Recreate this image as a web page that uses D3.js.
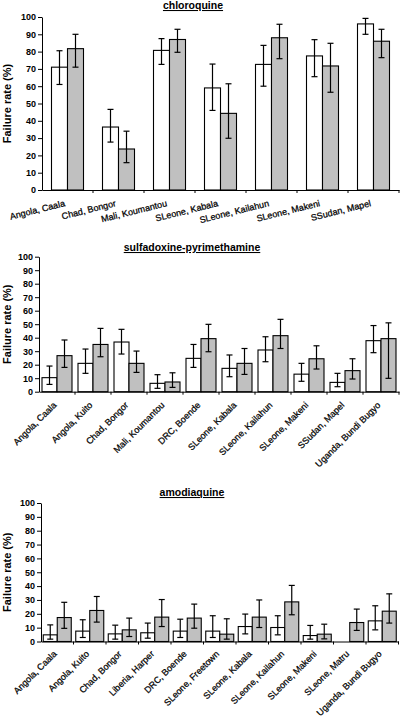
<!DOCTYPE html>
<html>
<head>
<meta charset="utf-8">
<script src="https://cdn.jsdelivr.net/npm/d3@7"></script>
<style>
  body { margin: 0; background: #fff; }
  svg { display: block; }
  text { font-family: "Liberation Sans", Arial, sans-serif; fill: #000; }
</style>
</head>
<body>
<svg id="chart" width="400" height="719"></svg>
<script>
// ---------- DATA ----------
const yTicks = [0, 10, 20, 30, 40, 50, 60, 70, 80, 90, 100];

const cqTitle = "chloroquine";
const cqCategories = ["Angola, Caala", "Chad, Bongor", "Mali, Koumantou", "SLeone, Kabala", "SLeone, Kailahun", "SLeone, Makeni", "SSudan, Mapel"];
const cqWhite     = [71, 36.4, 80.7, 59, 72.6, 77.5, 96];
const cqWhiteLow  = [61, 27.7, 72.6, 46, 60, 65.5, 90];
const cqWhiteHigh = [80.5, 46.6, 87.5, 72.8, 83.6, 86.9, 99.2];
const cqGray      = [81.7, 23.7, 87, 44.3, 88, 71.7, 86];
const cqGrayLow   = [71, 15.8, 79.6, 29.9, 75.9, 56.5, 76.5];
const cqGrayHigh  = [90, 34, 92.9, 61.4, 95.8, 84.8, 92.9];

const spTitle = "sulfadoxine-pyrimethamine";
const spCategories = ["Angola, Caala", "Angola, Kuito", "Chad, Bongor", "Mali, Koumantou", "DRC, Boende", "SLeone, Kabala", "SLeone, Kailahun", "SLeone, Makeni", "SSudan, Mapel", "Uganda, Bundi Bugyo"];
const spWhite     = [10.4, 21, 36.8, 6.2, 24.7, 17.3, 30.9, 13, 6.9, 37.8];
const spWhiteLow  = [5.4, 13.6, 27.9, 2.5, 18, 11.1, 22.2, 7.7, 3.7, 28.9];
const spWhiteHigh = [19, 31.6, 46.2, 12.6, 35, 27.2, 40.7, 21, 13.6, 49];
const spGray      = [26.7, 35, 21, 7.2, 39.3, 21, 41.5, 24.4, 15.6, 39.3];
const spGrayLow   = [18, 25.9, 14.3, 3.2, 29.6, 12.8, 32, 16.8, 9.4, 9.9];
const spGrayHigh  = [38.3, 46.9, 30.1, 14, 49.9, 32, 53.6, 34, 24.4, 51];

const aqTitle = "amodiaquine";
const aqCategories = ["Angola, Caala", "Angola, Kuito", "Chad, Bongor", "Liberia, Harper", "DRC, Boende", "SLeone, Freetown", "SLeone, Kabala", "SLeone, Kailahun", "SLeone, Makeni", "SLeone, Matru", "Uganda, Bundi Bugyo"];
const aqWhite     = [4.8, 7.5, 5.5, 6.3, 7.5, 7.5, 10.8, 10.1, 4.3, 0, 14.9];
const aqWhiteLow  = [1.7, 2.9, 1.7, 2.4, 2.9, 2.9, 5.5, 4.8, 1.7, null, 8.4];
const aqWhiteHigh = [12, 15.7, 11.8, 13.3, 16.1, 18.6, 19.8, 18.6, 11.6, null, 25.8];
const aqGray      = [17.3, 22.4, 8.4, 17.6, 16.9, 5.3, 17.6, 28.6, 5.3, 13.7, 21.9];
const aqGrayLow   = [9.5, 14, 3.6, 10.8, 9.6, 1.7, 10.1, 19.3, 1.9, 8, 13.3];
const aqGrayHigh  = [28.3, 32.5, 16.9, 30.3, 27, 16.4, 30, 40.5, 12.5, 23.4, 34.4];

const seriesKeys = ["white", "gray"];
const seriesFill = { white: "#ffffff", gray: "#c0c0c0" };

// ---------- DRAW ----------
const svg = d3.select("#chart");

function drawPanel(p) {
  const g = svg.append("g");
  const x = d3.scaleBand().domain(p.categories).range([p.left, p.right]).paddingInner(0).paddingOuter(0);
  const y = d3.scaleLinear().domain([0, 100]).range([p.bottom, p.top]);
  const pad = (x.bandwidth() - 2 * p.barW) / 2;
  const xs = d3.scaleBand().domain(seriesKeys).range([pad, pad + 2 * p.barW]);

  // title
  g.append("text")
    .attr("x", p.titleX).attr("y", p.titleY)
    .attr("text-anchor", "middle")
    .style("font-size", "10.5px").style("font-weight", "bold")
    .style("text-decoration", "underline")
    .text(p.title);

  // y label
  g.append("text")
    .attr("transform", `translate(11,${(p.top + p.bottom) / 2}) rotate(-90)`)
    .attr("text-anchor", "middle")
    .style("font-size", "11px").style("font-weight", "bold")
    .text("Failure rate (%)");

  // y axis
  const yAxis = d3.axisLeft(y).tickValues(yTicks).tickSize(4).tickPadding(2).tickSizeOuter(0);
  const ya = g.append("g").attr("transform", `translate(${p.left},0)`).call(yAxis);
  ya.selectAll("text").style("font-size", "9px").style("font-weight", "bold")
    .style("font-family", "'Liberation Sans', Arial, sans-serif").attr("fill", "#000");
  ya.selectAll("line, path").attr("stroke", "#000");

  // bars
  const rows = p.categories.map((c, i) => ({
    c,
    vals: [
      { k: "white", v: p.white[i], lo: p.whiteLow[i], hi: p.whiteHigh[i] },
      { k: "gray", v: p.gray[i], lo: p.grayLow[i], hi: p.grayHigh[i] }
    ]
  }));
  const grp = g.selectAll(".grp").data(rows).enter().append("g")
    .attr("transform", d => `translate(${x(d.c)},0)`);
  grp.selectAll("rect").data(d => d.vals).enter().append("rect")
    .attr("x", d => xs(d.k)).attr("width", xs.bandwidth())
    .attr("y", d => y(d.v)).attr("height", d => y(0) - y(d.v))
    .attr("fill", d => seriesFill[d.k])
    .attr("stroke", "#000").attr("stroke-width", 1.1);

  // error bars
  const eb = grp.selectAll(".eb").data(d => d.vals.filter(v => v.lo != null)).enter().append("g")
    .attr("stroke", "#000").attr("stroke-width", 1.2);
  eb.append("line")
    .attr("x1", d => xs(d.k) + xs.bandwidth() / 2).attr("x2", d => xs(d.k) + xs.bandwidth() / 2)
    .attr("y1", d => y(d.lo)).attr("y2", d => y(d.hi));
  eb.append("line")
    .attr("x1", d => xs(d.k) + xs.bandwidth() / 2 - 3).attr("x2", d => xs(d.k) + xs.bandwidth() / 2 + 3)
    .attr("y1", d => y(d.lo)).attr("y2", d => y(d.lo));
  eb.append("line")
    .attr("x1", d => xs(d.k) + xs.bandwidth() / 2 - 3).attr("x2", d => xs(d.k) + xs.bandwidth() / 2 + 3)
    .attr("y1", d => y(d.hi)).attr("y2", d => y(d.hi));

  // x axis
  const xAxis = d3.axisBottom(x).tickSize(0).tickFormat("");
  const xa = g.append("g").attr("transform", `translate(0,${p.bottom})`).call(xAxis);
  xa.select("path").attr("stroke", "#000");
  // boundary ticks
  g.selectAll(".btick").data(p.categories.map((c, i) => x(c) + x.bandwidth())).enter().append("line")
    .attr("x1", d => d).attr("x2", d => d)
    .attr("y1", p.bottom).attr("y2", p.bottom + 3)
    .attr("stroke", "#000");

  // category labels
  g.selectAll(".xl").data(p.categories).enter().append("text")
    .attr("transform", d => `translate(${x(d) + x.bandwidth() / 2 + p.lblDx},${p.bottom + p.lblDy}) rotate(${p.angle})`)
    .attr("text-anchor", "end")
    .style("font-size", "9px")
    .style("stroke", "#000").style("stroke-width", "0.25px")
    .text(d => d);
}

drawPanel({
  title: cqTitle, titleX: 193, titleY: 9,
  categories: cqCategories, white: cqWhite, whiteLow: cqWhiteLow, whiteHigh: cqWhiteHigh,
  gray: cqGray, grayLow: cqGrayLow, grayHigh: cqGrayHigh,
  left: 42, right: 399, top: 17, bottom: 190, barW: 16,
  angle: -14, lblDx: -2, lblDy: 16
});
drawPanel({
  title: spTitle, titleX: 192, titleY: 251,
  categories: spCategories, white: spWhite, whiteLow: spWhiteLow, whiteHigh: spWhiteHigh,
  gray: spGray, grayLow: spGrayLow, grayHigh: spGrayHigh,
  left: 39, right: 399, top: 256.7, bottom: 391.7, barW: 15,
  angle: -45, lblDx: 0, lblDy: 14
});
drawPanel({
  title: aqTitle, titleX: 192, titleY: 496,
  categories: aqCategories, white: aqWhite, whiteLow: aqWhiteLow, whiteHigh: aqWhiteHigh,
  gray: aqGray, grayLow: aqGrayLow, grayHigh: aqGrayHigh,
  left: 41, right: 398.5, top: 503, bottom: 641.5, barW: 14,
  angle: -45, lblDx: 0, lblDy: 13
});
</script>
</body>
</html>
